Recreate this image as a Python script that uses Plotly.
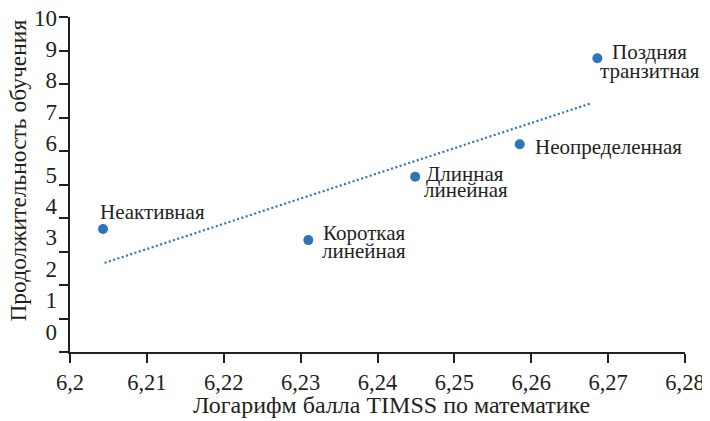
import numpy as np
import plotly.graph_objects as go

# ---- Data ----
categories = ["Неактивная", "Короткая\nлинейная", "Длинная\nлинейная",
              "Неопределенная", "Поздняя\nтранзитная"]
log_timss = [6.2043, 6.2310, 6.2449, 6.2585, 6.2686]
years = [3.67, 3.34, 5.23, 6.20, 8.77]
trend_x = [6.2045, 6.2677]
x_ticks = [6.20, 6.21, 6.22, 6.23, 6.24, 6.25, 6.26, 6.27, 6.28]
x_tick_text = ["6,2", "6,21", "6,22", "6,23", "6,24", "6,25", "6,26", "6,27", "6,28"]
y_ticks = list(range(0, 11))
x_title = "Логарифм балла TIMSS по математике"
y_title = "Продолжительность обучения"

# ---- Label placement (pixel offsets of each text line from its point) ----
label_offsets = [
    [(49, -17.5)],
    [(56, -6.7), (56, 11.3)],
    [(50, -2.7), (50.5, 13.3)],
    [(88.5, 2.3)],
    [(52.4, -6.7), (52.7, 13.0)],
]

BLUE = "#2e74b8"
INK = "#231f20"
FONT = "Liberation Serif, Times New Roman, serif"

slope, intercept = np.polyfit(log_timss, years, 1)
tx = np.array(trend_x)
ty = slope * tx + intercept

fig = go.Figure()
fig.add_trace(go.Scatter(x=tx, y=ty, mode="lines",
                         line=dict(color=BLUE, width=2.2, dash="2px,2.5px"),
                         hoverinfo="skip", showlegend=False))
fig.add_trace(go.Scatter(x=log_timss, y=years, mode="markers",
                         marker=dict(color=BLUE, size=10),
                         showlegend=False))
# dummy trace activating the label-only y axis
fig.add_trace(go.Scatter(x=[None], y=[None], yaxis="y2", showlegend=False,
                         hoverinfo="skip"))

for xv, yv, name, offs in zip(log_timss, years, categories, label_offsets):
    for line, (dx, dy) in zip(name.split("\n"), offs):
        fig.add_annotation(x=xv, y=yv, text=line, showarrow=False,
                           xanchor="center", yanchor="middle",
                           xshift=dx, yshift=-dy,
                           font=dict(family=FONT, size=21, color=INK))

fig.add_annotation(xref="paper", yref="paper", x=0.522, y=-0.157,
                   text=x_title, showarrow=False,
                   xanchor="center", yanchor="middle",
                   font=dict(family=FONT, size=24, color=INK))
fig.add_annotation(xref="paper", yref="paper", x=-0.0837, y=0.54,
                   text=y_title, showarrow=False,
                   textangle=-90, xanchor="center", yanchor="middle",
                   font=dict(family=FONT, size=23.5, color=INK))

fig.update_layout(
    width=710, height=421,
    margin=dict(l=62, r=33, t=9, b=77),
    paper_bgcolor="white", plot_bgcolor="rgba(0,0,0,0)",
    font=dict(family=FONT, size=22, color=INK),
    xaxis=dict(range=[6.2, 6.28], tickvals=x_ticks, ticktext=x_tick_text,
               automargin=False,
               showgrid=False, zeroline=False, showline=True, linecolor=INK,
               linewidth=1.8, ticks="outside", ticklen=9, tickwidth=1.5,
               tickcolor=INK, ticklabeloverflow="allow",
               tickfont=dict(family=FONT, size=22.5, color=INK)),
    yaxis=dict(range=[0, 10], tickvals=y_ticks, showticklabels=False,
               automargin=False,
               showgrid=False, zeroline=False, showline=True, linecolor=INK,
               linewidth=1.8, ticks="outside", ticklen=9, tickwidth=1.5,
               tickcolor=INK),
    yaxis2=dict(overlaying="y", side="left", range=[-0.653, 10.016],
                automargin=False,
                tickvals=y_ticks, showgrid=False, zeroline=False,
                showline=False, ticks="", ticklabelstandoff=12,
                ticklabeloverflow="allow",
                tickfont=dict(family=FONT, size=23, color=INK)),
)

fig.write_html("out.html")
